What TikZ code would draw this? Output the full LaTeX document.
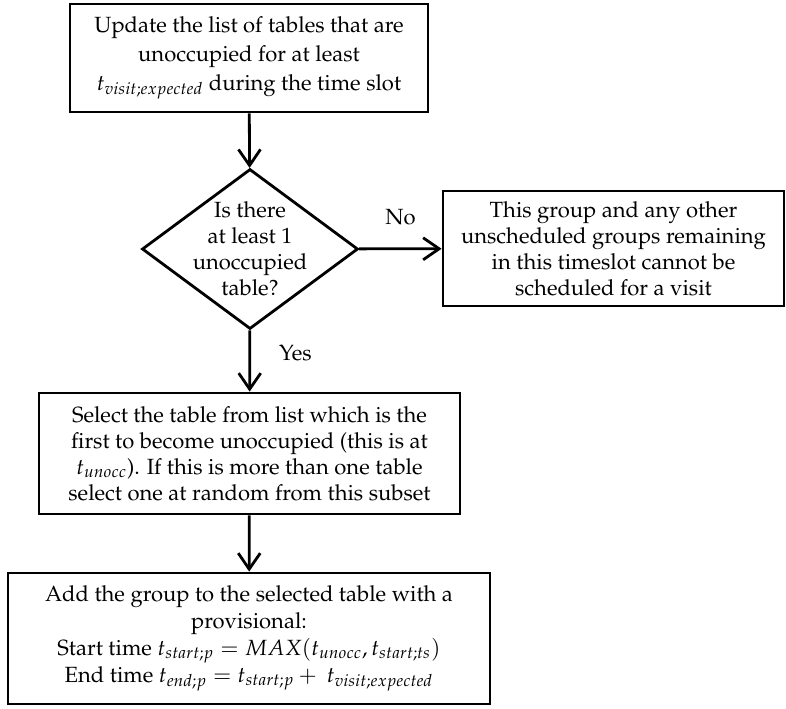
\documentclass[tikz,border=0pt,12pt]{standalone}
\usepackage[T1]{fontenc}
\usepackage{mathpazo}
\usepackage{amsmath}
\usetikzlibrary{shapes.geometric,arrows.meta}
\tikzset{block/.style = {draw, fill=white, line width=1.4pt, rectangle, align=center, inner sep=0pt},
         decision/.style = {draw, fill=white, line width=1.4pt, diamond, inner sep=0pt, minimum width=108pt, minimum height=80pt},
         flow/.style = {-{Straight Barb[length=8pt,width=11pt]}, line width=1.4pt}}

\begin{document}
\begin{tikzpicture}[x=0.5pt,y=-0.5pt, font=\fontsize{11}{13}\selectfont]
        \useasboundingbox (0,0) rectangle (786,708);

        \node[block, minimum width=179pt, minimum height=54pt, font=\fontsize{11}{14.5}\selectfont] (update) at (249,58)
             {Update the list of tables that are\\ unoccupied for at least\\ $t_{visit;expected}$ during the time slot};
        \node[decision, label={[align=center, inner sep=0pt]center:Is there\\ at least 1\\ unoccupied\\ table?}] (check) at (250,249) {};
        \node[block, minimum width=170.5pt, minimum height=57.5pt] (none) at (613.5,248.5)
             {This group and any other\\ unscheduled groups remaining\\ in this timeslot cannot be\\ scheduled for a visit};
        \node[block, minimum width=210.5pt, minimum height=60.5pt] (select) at (249.5,453.5)
             {Select the table from list which is the\\ first to become unoccupied (this is at\\ $t_{unocc}$). If this is more than one table\\ select one at random from this subset};
        \node[block, minimum width=241pt, minimum height=65.5pt, font=\fontsize{11}{13.5}\selectfont] (add) at (249,638.5)
             {Add the group to the selected table with a\\ provisional:\\ Start time $t_{start;p} = MAX(t_{unocc}, t_{start;ts})$\\ End time $t_{end;p} = t_{start;p} +\ t_{visit;expected}$};

        \draw[flow] (update) -- (check);
        \draw[flow] (check) -- node[above=7pt]{No} (none);
        \draw[flow] (check) -- node[right=10pt, yshift=4pt]{Yes} (select);
        \draw[flow] (select) -- (add);
    \end{tikzpicture}
\end{document}
